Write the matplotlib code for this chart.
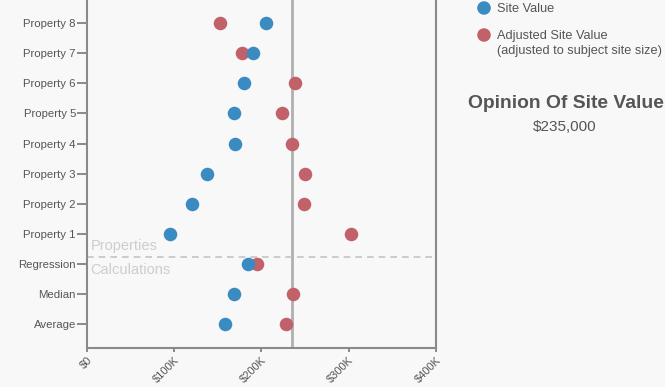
import matplotlib
matplotlib.use("Agg")
import matplotlib.pyplot as plt

# Row labels, bottom to top
categories = ["Average", "Median", "Regression",
              "Property 1", "Property 2", "Property 3", "Property 4",
              "Property 5", "Property 6", "Property 7", "Property 8"]
# Values in $K
site_value = [158.5, 169, 185, 95, 120, 137.5, 170, 169, 180, 190, 205]
adjusted_value = [228.8, 236.8, 195, 303.3, 249, 249.5, 235.3, 224, 238.5, 178, 153]
opinion_value = 235
x_ticks = [0, 100, 200, 300, 400]
x_tick_labels = ["$0", "$100K", "$200K", "$300K", "$400K"]

BLUE = "#3b8bc3"
RED = "#c1626b"
GRID = "#8a8a8a"
TEXT = "#555555"
BG = "#f8f8f8"

plt.rcParams["font.family"] = ["Liberation Sans", "DejaVu Sans"]

fig = plt.figure(figsize=(6.65, 3.87), dpi=100, facecolor=BG)
ax = fig.add_axes([87 / 665, 1 - 348 / 387, (435.7 - 87) / 665, 348 / 387])
ax.set_facecolor(BG)

rows = list(range(len(categories)))

# Opinion of value reference line
ax.axvline(opinion_value, color="#b0b0b0", lw=2, zorder=1)
# Divider between properties and calculations
ax.axhline(2.25, color="#c4c4c4", lw=1.2, ls=(0, (4, 3)), zorder=1)

ax.scatter(adjusted_value, rows, s=95, color=RED, zorder=3, linewidths=0)
ax.scatter(site_value, rows, s=95, color=BLUE, zorder=4, linewidths=0)

ax.text(4, 2.6, "Properties", color="#cdcdcd", fontsize=10.5, va="center", ha="left")
ax.text(4, 1.82, "Calculations", color="#cdcdcd", fontsize=10.5, va="center", ha="left")

ax.set_xlim(0, 400)
ax.set_ylim(-0.78, 10.76)
ax.set_yticks(rows)
ax.set_yticklabels(categories, fontsize=8.2, color=TEXT)
ax.set_xticks(x_ticks)
ax.set_xticklabels(x_tick_labels, fontsize=8, color=TEXT, rotation=45,
                   ha="right", rotation_mode="anchor")

for side in ("left", "bottom", "right"):
    ax.spines[side].set_color(GRID)
    ax.spines[side].set_linewidth(1.5)
ax.spines["top"].set_visible(False)
ax.tick_params(axis="y", length=7, width=1.2, color="#777777", pad=1)
ax.tick_params(axis="x", length=3, width=1.2, color="#777777", pad=2)

# Legend and summary on the right, in pixel coordinates
side_ax = fig.add_axes([0, 0, 1, 1], facecolor="none")
side_ax.set_xlim(0, 665)
side_ax.set_ylim(387, 0)
side_ax.axis("off")
side_ax.scatter([484, 484], [8, 35], s=95, color=[BLUE, RED], linewidths=0)
side_ax.text(497, 9, "Site Value", fontsize=9.2, color=TEXT, va="center", ha="left")
side_ax.text(497, 36, "Adjusted Site Value", fontsize=9.2, color=TEXT, va="center", ha="left")
side_ax.text(497, 51, "(adjusted to subject site size)", fontsize=9.2, color=TEXT,
             va="center", ha="left")
side_ax.text(565.5, 104, "Opinion Of Site Value", fontsize=13.9, fontweight="bold",
             color=TEXT, va="center", ha="center")
side_ax.text(564.5, 127, "$235,000", fontsize=11, color=TEXT, va="center", ha="center")

fig.savefig("out.png", dpi=100, facecolor=BG)
